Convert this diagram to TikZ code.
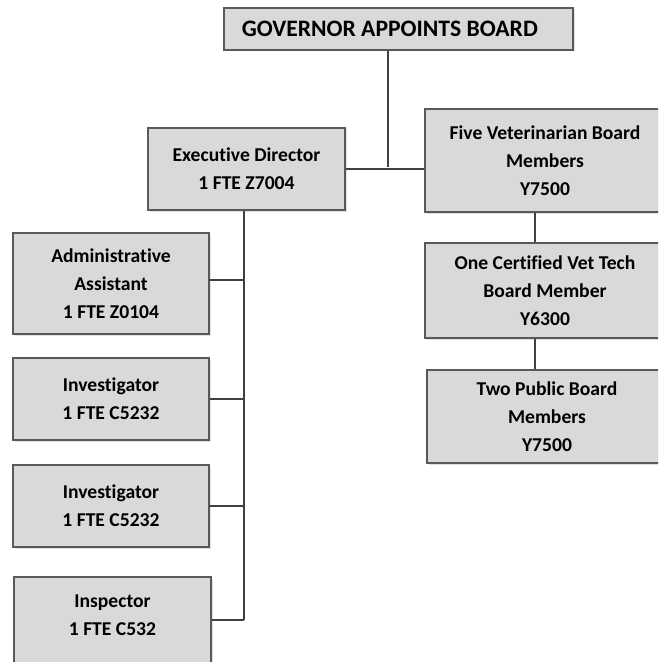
\documentclass[tikz,border=0pt]{standalone}
\usepackage{fontspec}
\setmainfont{Carlito}[Ligatures=NoCommon]
\usepackage{tikz}
\usetikzlibrary{shadows}
\definecolor{boxgray}{HTML}{D9D9D9}
\definecolor{edgegray}{HTML}{595959}
\newcommand{\boxcolor}{boxgray}
\newcommand{\edgecolor}{edgegray}
\newcommand{\px}{0.75pt}

\tikzset{
  orgbox/.style={draw=\edgecolor, fill=\boxcolor, line width=1.5*\px, rectangle,
    align=center, inner sep=0pt, font=\fontsize{14.7}{21}\selectfont\bfseries,
    drop shadow={shadow xshift=1.5*\px, shadow yshift=-1.5*\px, opacity=0.25}},
  link/.style={draw=black!75, line width=1.3*\px}
}

\begin{document}
\begin{tikzpicture}[x=0.75pt, y=-0.75pt]
\useasboundingbox (0,0) rectangle (658,663);
\clip (0,0) rectangle (658,661);
\node[orgbox, minimum width=349*\px, minimum height=42*\px,
  font=\fontsize{17.7}{20}\selectfont\bfseries] (gov) at (398.5,29) {\hspace*{-13pt}GOVERNOR APPOINTS BOARD};
\node[orgbox, minimum width=197*\px, minimum height=82*\px] (exec) at (246.5,169) {Executive Director\\1 FTE Z7004};
\node[orgbox, minimum width=240*\px, minimum height=103*\px] (five) at (545,160.5) {Five Veterinarian Board\\Members\\Y7500};
\node[orgbox, minimum width=240*\px, minimum height=95*\px] (one) at (545,290.5) {One Certified Vet Tech\\Board Member\\Y6300};
\node[orgbox, minimum width=240*\px, minimum height=93*\px] (two) at (547,416.5) {Two Public Board\\Members\\Y7500};
\node[orgbox, minimum width=196*\px, minimum height=101*\px] (admin) at (111,283.5) {Administrative\\Assistant\\1 FTE Z0104};
\node[orgbox, minimum width=196*\px, minimum height=82*\px] (inv1) at (111,399) {Investigator\\1 FTE C5232};
\node[orgbox, minimum width=196*\px, minimum height=82*\px] (inv2) at (111,506) {Investigator\\1 FTE C5232};
\node[orgbox, minimum width=197*\px, minimum height=104*\px] (insp) at (112.5,629) {Inspector\\1 FTE C532\\~};
% joints
\coordinate (top) at (388,167);
\coordinate (bx) at (535,0);
\coordinate (sx) at (244,0);
\coordinate (c1) at (244,280);
\coordinate (c4) at (244,620);
% board side
\draw[link] (gov.south -| top) -- (top);
\draw[link] (exec.east) -- (exec.east -| five.west);
\draw[link] (five.south -| bx) -- (one.north -| bx);
\draw[link] (one.south -| bx) -- (two.north -| bx);
% staff side
\draw[link] (exec.south -| sx) -- (c4);
\draw[link] (c1 -| admin.east) -- (c1);
\draw[link] (inv1.east) -- (inv1.east -| sx);
\draw[link] (inv2.east) -- (inv2.east -| sx);
\draw[link] (c4 -| insp.east) -- (c4);
\end{tikzpicture}
\end{document}
